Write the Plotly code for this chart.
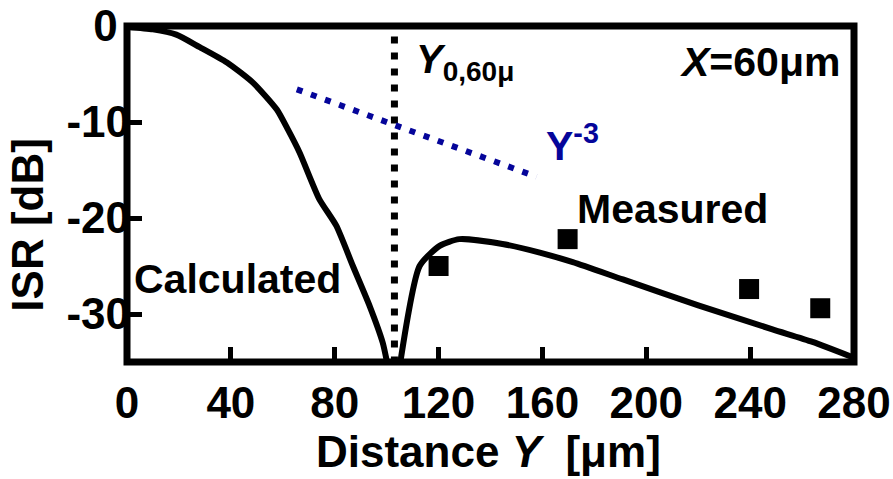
import plotly.graph_objects as go

# Calculated curve (two branches around the null near Y0)
calc_left_x = [0, 10, 19, 28, 38.5, 48.5, 57.7, 62, 66.5, 74, 80.6, 87, 93.5, 98.5, 100.5]
calc_left_y = [-0.1, -0.35, -0.9, -2.2, -3.8, -5.9, -8.7, -10.8, -13.2, -18, -20.8, -25, -29.2, -33, -35.5]
calc_right_x = [105, 112.7, 120.4, 128, 144.6, 159, 171.7, 191, 220, 248.6, 264, 279.5]
calc_right_y = [-35.5, -25, -22.9, -22.2, -22.7, -23.6, -24.6, -26.4, -29.1, -31.6, -32.9, -34.5]

# Measured points
meas_x = [120, 169.7, 239.6, 267]
meas_y = [-25.0, -22.2, -27.4, -29.4]

# Y^-3 guide line end points
guide_x = [65.4, 157.7]
guide_y = [-6.6, -15.7]

# Y0 marker line
y0_x = [103, 103]
y0_y = [-1.1, -35]

x_ticks = [0, 40, 80, 120, 160, 200, 240, 280]
y_ticks = [0, -10, -20, -30]
y_tick_text = ["0\u00a0", "-10", "-20", "-30"]
x_range = [0, 280]
y_range = [-35, 0]

FONT = "Liberation Sans, Arial, sans-serif"
BLUE = "#05059A"

fig = go.Figure()
fig.add_trace(go.Scatter(x=calc_left_x, y=calc_left_y, mode="lines",
                         line=dict(color="black", width=6, shape="spline", smoothing=0.6),
                         showlegend=False))
fig.add_trace(go.Scatter(x=calc_right_x, y=calc_right_y, mode="lines",
                         line=dict(color="black", width=6, shape="spline", smoothing=0.6),
                         showlegend=False))
fig.add_trace(go.Scatter(x=y0_x, y=y0_y, mode="lines",
                         line=dict(color="black", width=7, dash="7px,9px"),
                         showlegend=False))
fig.add_trace(go.Scatter(x=guide_x, y=guide_y, mode="lines",
                         line=dict(color=BLUE, width=6, dash="6px,9px"),
                         showlegend=False))
fig.add_trace(go.Scatter(x=meas_x, y=meas_y, mode="markers",
                         marker=dict(symbol="square", size=20, color="black"),
                         showlegend=False, cliponaxis=False))

axis_common = dict(showline=False, ticks="inside", ticklen=15, tickwidth=5,
                   tickcolor="black", showgrid=False, zeroline=False, automargin=False,
                   tickfont=dict(family=FONT, size=44, color="black", weight="bold"))

fig.update_xaxes(range=x_range, tickvals=x_ticks, ticklabelstandoff=11, **axis_common)
fig.update_yaxes(range=y_range, tickvals=y_ticks, ticktext=y_tick_text,
                 ticklabelstandoff=-4, **axis_common)

# frame centred on the plot edges (paper-referenced so it is not clipped)
fig.add_shape(type="rect", xref="paper", yref="paper", x0=0, x1=1, y0=0, y1=1,
              line=dict(color="black", width=7), layer="above")

ann_font = dict(family=FONT, size=41, color="black", weight="bold")
annotations = [
    dict(x=42.7, y=-26.4, xref="x", yref="y", text="Calculated", showarrow=False,
         xanchor="center", yanchor="middle", font=ann_font),
    dict(x=210, y=-19.1, xref="x", yref="y", text="Measured", showarrow=False,
         xanchor="center", yanchor="middle", font=ann_font),
    dict(x=243.8, y=-3.8, xref="x", yref="y", text="<i>X</i>=60μm", showarrow=False,
         xanchor="center", yanchor="middle", font=ann_font),
    dict(x=110.5, y=-3.7, xref="x", yref="y", text="<i>Y</i><sub>0,60μ</sub>",
         showarrow=False, xanchor="left", yanchor="middle",
         font=dict(family=FONT, size=40, color="black", weight="bold")),
    dict(x=160.5, y=-12.2, xref="x", yref="y", text="Y<sup>-3</sup>", showarrow=False,
         xanchor="left", yanchor="middle",
         font=dict(family=FONT, size=41, color=BLUE, weight="bold")),
    dict(x=0.497, y=-0.265, xref="paper", yref="paper", text="Distance <i>Y</i>  [μm]",
         showarrow=False, xanchor="center", yanchor="middle",
         font=dict(family=FONT, size=44, color="black", weight="bold")),
    dict(x=-0.137, y=0.41, xref="paper", yref="paper", text="ISR [dB]", textangle=-90,
         showarrow=False, xanchor="center", yanchor="middle",
         font=dict(family=FONT, size=44, color="black", weight="bold")),
]
fig.update_layout(width=893, height=479, margin=dict(l=127, r=39, t=26, b=117),
                  plot_bgcolor="white", paper_bgcolor="white",
                  annotations=annotations, showlegend=False)

fig.write_html("out.html")
